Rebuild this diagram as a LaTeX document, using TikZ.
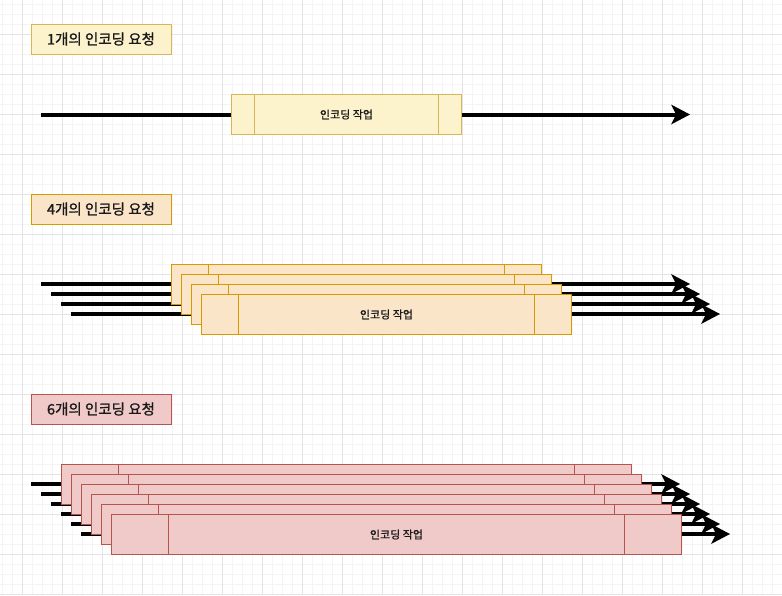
\documentclass[tikz,border=0pt]{standalone}
\usepackage{fontspec}
\setmainfont{Noto Sans CJK KR}
\newfontfamily\labfont[FakeBold=1.2]{Noto Sans CJK KR}
\newfontfamily\procfont[FakeBold=0.8]{Noto Sans CJK KR}
\usetikzlibrary{arrows.meta,calc}
\definecolor{gridminor}{HTML}{F4F4F4}
\definecolor{gridmajor}{HTML}{E4E4E4}
\definecolor{yfill}{HTML}{FCF2CC}
\definecolor{ydraw}{HTML}{D6B656}
\definecolor{ofill}{HTML}{FAE5C9}
\definecolor{odraw}{HTML}{D79B00}
\definecolor{rfill}{HTML}{F0CAC8}
\definecolor{rdraw}{HTML}{B85450}
\definecolor{txt}{HTML}{1A1A1A}
\tikzset{
  labelbox/.style={draw=#1, line width=1pt, minimum width=140pt, minimum height=30pt, inner sep=0pt,
    font=\labfont\fontsize{14.5}{16}\selectfont, text=txt},
  procbase/.style={line width=1pt, inner sep=0pt, minimum height=40pt,
    font=\procfont\fontsize{11}{12}\selectfont, text=txt,
    path picture={\draw[#1, line width=1pt]
      ($(path picture bounding box.north west)!0.1!(path picture bounding box.north east)$) --
      ($(path picture bounding box.south west)!0.1!(path picture bounding box.south east)$)
      ($(path picture bounding box.north west)!0.9!(path picture bounding box.north east)$) --
      ($(path picture bounding box.south west)!0.9!(path picture bounding box.south east)$);}},
  procY/.style={procbase=ydraw, draw=ydraw, fill=yfill, minimum width=230pt},
  procO/.style={procbase=odraw, draw=odraw, fill=ofill, minimum width=370pt},
  procR/.style={procbase=rdraw, draw=rdraw, fill=rfill, minimum width=570pt},
  req/.style={line width=4pt, -{Stealth[length=19pt, width=20pt, inset=5pt, line width=0pt]}},
}
\begin{document}
\begin{tikzpicture}[x=1pt,y=-1pt]
\useasboundingbox (0,0) rectangle (782,595);
\fill[white] (0,0) rectangle (782,595);
% background grid
\foreach \gx in {2,12,...,782} {\draw[gridminor, line width=1pt] (\gx,0) -- (\gx,595);}
\foreach \gy in {4,14,...,594} {\draw[gridminor, line width=1pt] (0,\gy) -- (782,\gy);}
\foreach \gx in {22,62,...,782} {\draw[gridmajor, line width=1pt] (\gx,0) -- (\gx,595);}
\foreach \gy in {34,74,...,594} {\draw[gridmajor, line width=1pt] (0,\gy) -- (782,\gy);}

% labels
\node[labelbox=ydraw, fill=yfill] (l1) at (101,39) {1개의 인코딩 요청};
\node[labelbox=odraw, fill=ofill] (l2) at (101,209) {4개의 인코딩 요청};
\node[labelbox=rdraw, fill=rfill] (l3) at (101,409) {6개의 인코딩 요청};

% group 1
\coordinate (s1) at (41,114.5);
\coordinate (e1) at (690,114.5);
\draw[req] (s1) -- (e1);
\node[procY] (p1) at (346.5,114.5) {인코딩 작업};

% group 2
\foreach \i in {0,...,3} {
  \coordinate (s2\i) at ({41+10*\i},{284+10*\i});
  \coordinate (e2\i) at ({690+10*\i},{284+10*\i});
  \draw[req] (s2\i) -- (e2\i);
}
\foreach \i in {0,...,2} {
  \node[procO] (p2\i) at ({356.5+10*\i},{284.5+10*\i}) {};
}
\node[procO] (p23) at (386.5,314.5) {인코딩 작업};

% group 3
\foreach \i in {0,...,5} {
  \coordinate (s3\i) at ({31+10*\i},{484+10*\i});
  \coordinate (e3\i) at ({680+10*\i},{484+10*\i});
  \draw[req] (s3\i) -- (e3\i);
}
\foreach \i in {0,...,4} {
  \node[procR] (p3\i) at ({346.5+10*\i},{484.5+10*\i}) {};
}
\node[procR] (p35) at (396.5,534.5) {인코딩 작업};
\end{tikzpicture}
\end{document}
